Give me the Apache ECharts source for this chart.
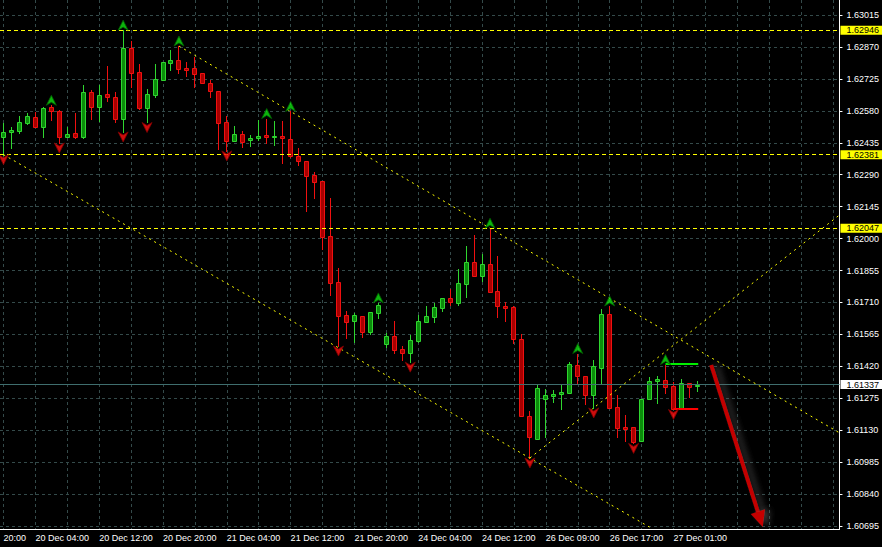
<!DOCTYPE html>
<html><head><meta charset="utf-8">
<script src="https://cdn.jsdelivr.net/npm/echarts@6/dist/echarts.min.js"></script>
<style>html,body{margin:0;padding:0;background:#000;}#c{width:882px;height:547px;}</style>
</head><body><div id="c"></div>
<script>
// ---- data (H1 candles, index 0 = first visible bar) ----
const candleOpen = [1.62460,1.62485,1.62490,1.62526,1.62551,1.62508,1.62596,1.62578,1.62462,1.62478,
1.62462,1.62664,1.62596,1.62655,1.62641,1.62542,1.62864,1.62755,1.62594,1.62652,
1.62720,1.62798,1.62809,1.62774,1.62773,1.62752,1.62705,1.62670,1.62528,1.62444,
1.62473,1.62448,1.62455,1.62470,1.62462,1.62466,1.62451,1.62376,1.62352,1.62289,
1.62261,1.62012,1.61801,1.61653,1.61627,1.61648,1.61576,1.61663,1.61521,1.61558,
1.61499,1.61479,1.61536,1.61623,1.61643,1.61686,1.61730,1.61706,1.61795,1.61894,
1.61831,1.61885,1.61762,1.61694,1.61688,1.61543,1.61194,1.61091,1.61273,1.61287,
1.61293,1.61300,1.61426,1.61376,1.61290,1.61414,1.61657,1.61235,1.61146,1.61146,
1.61082,1.61270,1.61352,1.61358,1.61332,1.61227,1.61343,1.61330];
const candleHigh = [1.62523,1.62508,1.62557,1.62571,1.62576,1.62598,1.62605,1.62584,1.62505,1.62569,
1.62697,1.62675,1.62697,1.62784,1.62664,1.62946,1.62897,1.62793,1.62678,1.62793,
1.62802,1.62856,1.62874,1.62802,1.62826,1.62752,1.62720,1.62670,1.62558,1.62511,
1.62488,1.62470,1.62538,1.62545,1.62535,1.62535,1.62577,1.62411,1.62352,1.62301,
1.62261,1.62186,1.61865,1.61671,1.61661,1.61648,1.61667,1.61708,1.61573,1.61626,
1.61513,1.61562,1.61653,1.61693,1.61706,1.61730,1.61771,1.61862,1.61966,1.62015,
1.61931,1.62047,1.61921,1.61710,1.61694,1.61567,1.61217,1.61333,1.61316,1.61312,
1.61339,1.61441,1.61478,1.61376,1.61448,1.61679,1.61694,1.61290,1.61199,1.61146,
1.61272,1.61370,1.61374,1.61428,1.61350,1.61361,1.61343,1.61352];
const candleLow = [1.62381,1.62410,1.62481,1.62520,1.62505,1.62462,1.62538,1.62434,1.62460,1.62455,
1.62458,1.62544,1.62535,1.62626,1.62531,1.62484,1.62687,1.62590,1.62527,1.62641,
1.62720,1.62765,1.62750,1.62738,1.62687,1.62705,1.62644,1.62405,1.62398,1.62444,
1.62417,1.62422,1.62448,1.62433,1.62425,1.62344,1.62372,1.62334,1.62125,1.62186,
1.61951,1.61744,1.61512,1.61547,1.61532,1.61552,1.61567,1.61639,1.61509,1.61479,
1.61448,1.61439,1.61532,1.61623,1.61623,1.61673,1.61698,1.61698,1.61736,1.61831,
1.61809,1.61759,1.61645,1.61626,1.61526,1.61196,1.61004,1.61089,1.61098,1.61258,
1.61227,1.61300,1.61343,1.61249,1.61231,1.61343,1.61232,1.61098,1.61082,1.61070,
1.61082,1.61270,1.61252,1.61297,1.61224,1.61226,1.61280,1.61310];
const candleClose = [1.62483,1.62493,1.62528,1.62557,1.62508,1.62591,1.62578,1.62462,1.62473,1.62462,
1.62664,1.62596,1.62650,1.62641,1.62542,1.62864,1.62753,1.62594,1.62655,1.62723,
1.62800,1.62811,1.62770,1.62767,1.62749,1.62705,1.62671,1.62526,1.62444,1.62473,
1.62440,1.62457,1.62466,1.62462,1.62466,1.62455,1.62375,1.62354,1.62285,1.62258,
1.62009,1.61800,1.61650,1.61623,1.61653,1.61576,1.61667,1.61698,1.61558,1.61494,
1.61479,1.61540,1.61626,1.61648,1.61689,1.61730,1.61713,1.61797,1.61894,1.61831,
1.61885,1.61759,1.61692,1.61687,1.61543,1.61196,1.61098,1.61322,1.61290,1.61294,
1.61303,1.61430,1.61374,1.61290,1.61422,1.61657,1.61232,1.61141,1.61137,1.61078,
1.61272,1.61353,1.61362,1.61328,1.61227,1.61343,1.61328,1.61337];

const fractalUpIdx = [6,15,22,33,36,47,61,72,76,83];
const fractalDownIdx = [0,7,15,18,28,42,51,66,74,79,84];

const yTickValues = [1.60695,1.60840,1.60985,1.61130,1.61275,1.61420,1.61565,1.61710,1.61855,
1.62000,1.62145,1.62290,1.62435,1.62580,1.62725,1.62870,1.63015];
const xGridIdx = [0,4,8,12,16,20,24,28,32,36,40,44,48,52,56,60,64,68,72,76,80,84,88,92,96,100,104];
const xLabelIdx = [0,4,12,20,28,36,44,52,60,68,76,84];
const xLabelText = ['20:00','20 Dec 04:00','20 Dec 12:00','20 Dec 20:00','21 Dec 04:00','21 Dec 12:00',
'21 Dec 20:00','24 Dec 04:00','24 Dec 12:00','26 Dec 09:00','26 Dec 17:00','27 Dec 01:00'];

const levelLines = [1.62946, 1.62381, 1.62047];
const bidPrice = 1.61337;
const channelUpper = [[22, 1.62874], [104.81, 1.61118]];
const channelLower = [[0, 1.62381], [81, 1.60690]];
const risingLine = [[66, 1.61004], [104.81, 1.62107]];
const buyLevel = [[83, 1.61430], [87.1, 1.61430]];
const sellLevel = [[84, 1.61227], [87.1, 1.61227]];
const forecastArrow = [[88.73, 1.61426], [95.19, 1.60691]];

// ---- chart ----
const X_MIN = -0.4375, X_MAX = 104.8125;
const FONT = '"Liberation Sans", Arial, sans-serif';
const bullFill = '#0b8c0b', bullEdge = '#2fd62f', bearFill = '#a80000', bearEdge = '#f01010';
const gridStyle = { color: '#344a4a', width: 1, type: [3, 3] };

const candleData = candleOpen.map((o, i) => [i, o, candleClose[i], candleLow[i], candleHigh[i]]);
const tag = (v, bg) => ({ show: true, position: 'end', distance: 1, formatter: v.toFixed(5), color: '#000',
  backgroundColor: bg, padding: [0, 6, 0, 6], lineHeight: 9, fontSize: 9, fontFamily: FONT });
const hLine = (v, style, label) => [{ coord: [X_MIN, v], lineStyle: style, label: label }, { coord: [X_MAX, v] }];

const chart = echarts.init(document.getElementById('c'), null, { renderer: 'svg' });
chart.setOption({
  backgroundColor: '#000000',
  animation: false,
  grid: { left: 0, right: 40, top: 0, bottom: 18 },
  xAxis: {
    type: 'value', min: X_MIN, max: X_MAX,
    axisLine: { show: true, onZero: false, lineStyle: { color: '#ffffff', width: 1 } },
    axisTick: { show: false, customValues: xGridIdx },
    splitLine: { show: true, lineStyle: gridStyle },
    axisLabel: {
      customValues: xLabelIdx, align: 'left', margin: 4,
      color: '#ffffff', fontSize: 9, fontFamily: FONT,
      formatter: (v) => { const i = xLabelIdx.indexOf(Math.round(v)); return i >= 0 ? xLabelText[i] : ''; }
    }
  },
  yAxis: {
    type: 'value', position: 'right', min: 1.606814, max: 1.630831,
    axisLine: { show: true, onZero: false, lineStyle: { color: '#ffffff', width: 1 } },
    axisTick: { show: true, inside: false, length: 3, lineStyle: { color: '#ffffff' }, customValues: yTickValues },
    splitLine: { show: true, lineStyle: gridStyle },
    axisLabel: {
      customValues: yTickValues, margin: 7, color: '#ffffff', fontSize: 9, lineHeight: 10, fontFamily: FONT,
      formatter: (v) => v.toFixed(5)
    }
  },
  series: [
    { // bid line (behind candles)
      type: 'line', data: [], z: 1, silent: true,
      markLine: {
        silent: true, symbol: ['none', 'none'], animation: false, label: { show: false },
        data: [hLine(bidPrice, { color: '#3f6e6e', width: 1, type: 'solid' }, tag(bidPrice, '#ffffff'))]
      }
    },
    {
      type: 'custom', z: 3, data: candleData, encode: { x: 0, y: [1, 2, 3, 4] },
      renderItem: (params, api) => {
        const k = api.value(0), o = api.value(1), c = api.value(2), l = api.value(3), h = api.value(4);
        const pO = api.coord([k, o]), pC = api.coord([k, c]), pL = api.coord([k, l]), pH = api.coord([k, h]);
        const x = Math.round(pO[0] - 0.5) + 0.5;
        const up = c >= o;
        const top = Math.round(Math.min(pO[1], pC[1])) + 0.5;
        const bot = Math.round(Math.max(pO[1], pC[1])) + 0.5;
        const edge = up ? bullEdge : bearEdge, fill = up ? bullFill : bearFill;
        return { type: 'group', children: [
          { type: 'line', shape: { x1: x, y1: Math.round(pH[1]), x2: x, y2: Math.round(pL[1]) + 1 }, style: { stroke: edge, lineWidth: 1 } },
          { type: 'rect', shape: { x: x - 2, y: top, width: 4, height: Math.max(bot - top, 0) }, style: { fill: fill, stroke: edge, lineWidth: 1 } }
        ] };
      }
    },
    { // objects in front: level lines, channels
      type: 'line', data: [], z: 5, silent: true,
      markLine: {
        silent: true, symbol: ['none', 'none'], animation: false,
        label: { show: false },
        data: [
          ...levelLines.map(v => hLine(v, { color: '#ffff00', width: 1, type: [4, 3] }, tag(v, '#ffff00'))),
          [{ coord: channelUpper[0], lineStyle: { color: '#ffff00', width: 1, type: [2, 4] } }, { coord: channelUpper[1] }],
          [{ coord: channelLower[0], lineStyle: { color: '#ffff00', width: 1, type: [2, 4] } }, { coord: channelLower[1] }],
          [{ coord: risingLine[0], lineStyle: { color: '#ffff00', width: 1, type: [2, 4] } }, { coord: risingLine[1] }],
          [{ coord: buyLevel[0], lineStyle: { color: '#00ee00', width: 2, type: 'solid' } }, { coord: buyLevel[1] }],
          [{ coord: sellLevel[0], lineStyle: { color: '#ff0000', width: 2, type: 'solid' } }, { coord: sellLevel[1] }]
        ]
      }
    },
    { // forecast arrow
      type: 'custom', z: 6, silent: true, data: [forecastArrow[0].concat(forecastArrow[1])],
      encode: { x: [0, 2], y: [1, 3] },
      renderItem: (params, api) => {
        const p0 = api.coord([api.value(0), api.value(1)]);
        const p1 = api.coord([api.value(2), api.value(3)]);
        const dx = p1[0] - p0[0], dy = p1[1] - p0[1], len = Math.hypot(dx, dy);
        const ux = dx / len, uy = dy / len, headLen = 16, headHalf = 7.5;
        const bx = p1[0] - ux * headLen, by = p1[1] - uy * headLen;
        const shadow = { shadowBlur: 6, shadowColor: 'rgba(100,100,100,0.55)', shadowOffsetX: 5, shadowOffsetY: 0 };
        return { type: 'group', children: [
          { type: 'line', shape: { x1: p0[0], y1: p0[1], x2: bx + ux * 2, y2: by + uy * 2 },
            style: Object.assign({ stroke: '#c40000', lineWidth: 4 }, shadow) },
          { type: 'polygon', shape: { points: [[p1[0], p1[1]], [bx - uy * headHalf, by + ux * headHalf], [bx + uy * headHalf, by - ux * headHalf]] },
            style: Object.assign({ fill: '#c40000' }, shadow) }
        ] };
      }
    },
    {
      type: 'scatter', z: 7, silent: true,
      data: fractalUpIdx.map(i => [i, candleHigh[i]]),
      symbol: 'path://M5,0L10,10L5,7L0,10Z', symbolSize: [10, 10], symbolOffset: [0, -5],
      itemStyle: { color: '#10e010', borderColor: '#006000', borderWidth: 1 }
    },
    {
      type: 'scatter', z: 7, silent: true,
      data: fractalDownIdx.map(i => [i, candleLow[i]]),
      symbol: 'path://M0,0L5,3L10,0L5,10Z', symbolSize: [10, 10], symbolOffset: [0, 5],
      itemStyle: { color: '#ff1010', borderColor: '#800000', borderWidth: 1 }
    }
  ]
});
</script>
</body></html>
